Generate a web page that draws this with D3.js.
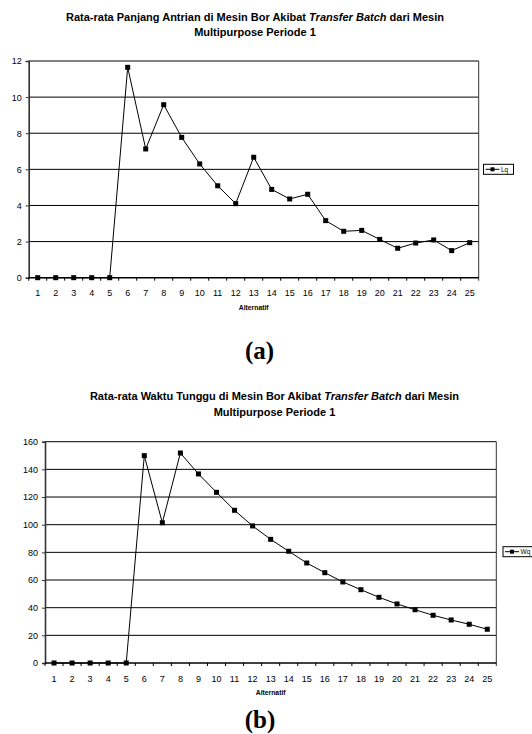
<!DOCTYPE html>
<html lang="en">
<head>
<meta charset="utf-8">
<title>Rata-rata Panjang Antrian dan Waktu Tunggu</title>
<script src="https://d3js.org/d3.v7.min.js"></script>
<style>
    body { margin: 0; background: #fff; }
    svg text { font-family: "Liberation Sans", Arial, sans-serif; fill: #000; }
</style>
</head>
<body>
<div id="vis"></div>
<script>
// Data
var alternatif = ["1","2","3","4","5","6","7","8","9","10","11","12","13",
                  "14","15","16","17","18","19","20","21","22","23","24","25"];
var lqValues = [0, 0, 0, 0, 0, 11.65, 7.13, 9.58, 7.77, 6.30, 5.09, 4.10, 6.67,
                4.89, 4.36, 4.62, 3.16, 2.57, 2.62, 2.12, 1.63, 1.92, 2.09, 1.50, 1.94];
var wqValues = [0, 0, 0, 0, 0, 149.9, 101.4, 151.8, 136.7, 123.4, 110.4, 99.1, 89.4,
                80.8, 72.3, 65.3, 58.6, 53.0, 47.5, 42.7, 38.5, 34.5, 31.1, 28.0, 24.4];
var lqTicks = [0, 2, 4, 6, 8, 10, 12];
var wqTicks = [0, 20, 40, 60, 80, 100, 120, 140, 160];

var svg = d3.select("#vis").append("svg")
    .attr("width", 532)
    .attr("height", 734);

svg.append("rect").attr("width", 532).attr("height", 734).attr("fill", "#fff");

// Draw one Excel-style line chart
function drawChart(cfg) {
    var g = svg.append("g");

    var x = d3.scaleBand().domain(alternatif).range([cfg.left, cfg.right]);
    var y = d3.scaleLinear().domain([0, d3.max(cfg.ticks)]).range([cfg.bottom, cfg.top]);

    // Title (two lines, "Transfer Batch" italic)
    var t1 = g.append("text")
        .attr("x", cfg.titleX).attr("y", cfg.titleY)
        .attr("text-anchor", "middle")
        .style("font-size", "11px").style("font-weight", "bold");
    t1.append("tspan").text(cfg.title1a);
    t1.append("tspan").style("font-style", "italic").text("Transfer Batch");
    t1.append("tspan").text("  dari Mesin");
    g.append("text")
        .attr("x", cfg.titleX).attr("y", cfg.titleY + 15.5)
        .attr("text-anchor", "middle")
        .style("font-size", "11px").style("font-weight", "bold")
        .text("Multipurpose Periode 1");

    // Gridlines
    g.selectAll(".grid").data(cfg.ticks.slice(1)).enter().append("line")
        .attr("x1", cfg.left).attr("x2", cfg.right)
        .attr("y1", function(d) { return y(d); })
        .attr("y2", function(d) { return y(d); })
        .attr("stroke", "#000").attr("stroke-width", 1);

    // Right border
    g.append("line")
        .attr("x1", cfg.right).attr("x2", cfg.right)
        .attr("y1", cfg.top).attr("y2", cfg.bottom + 3)
        .attr("stroke", "#333").attr("stroke-width", 1);

    // Y axis
    var yAxis = d3.axisLeft(y).tickValues(cfg.ticks).tickSize(3).tickPadding(4);
    var ya = g.append("g").attr("transform", "translate(" + cfg.left + ",0)").call(yAxis);
    ya.select(".domain").attr("stroke", "#333").attr("stroke-width", 1.6);
    ya.selectAll(".tick line").attr("stroke", "#333");
    ya.selectAll("text").style("font-size", "9px").style("font-family", "Liberation Sans, Arial, sans-serif");

    // X axis: ticks at category boundaries
    var xa = g.append("g");
    xa.append("line")
        .attr("x1", cfg.left).attr("x2", cfg.right)
        .attr("y1", cfg.bottom).attr("y2", cfg.bottom)
        .attr("stroke", "#000").attr("stroke-width", 1.6);
    xa.selectAll(".xt").data(alternatif).enter().append("line")
        .attr("x1", function(d) { return x(d); })
        .attr("x2", function(d) { return x(d); })
        .attr("y1", cfg.bottom).attr("y2", cfg.bottom + 3)
        .attr("stroke", "#000");
    xa.selectAll(".xl").data(alternatif).enter().append("text")
        .attr("x", function(d) { return x(d) + x.bandwidth() / 2; })
        .attr("y", cfg.bottom + 18.5)
        .attr("text-anchor", "middle")
        .style("font-size", "9px")
        .text(function(d) { return d; });

    g.append("text")
        .attr("x", (cfg.left + cfg.right) / 2).attr("y", cfg.bottom + 32)
        .attr("text-anchor", "middle")
        .style("font-size", "6.8px").style("font-weight", "bold")
        .text("Alternatif");

    // Series
    var pts = cfg.values.map(function(v, i) { return { k: alternatif[i], v: v }; });
    var line = d3.line()
        .x(function(d) { return x(d.k) + x.bandwidth() / 2; })
        .y(function(d) { return y(d.v); });
    g.append("path").datum(pts)
        .attr("d", line)
        .attr("fill", "none").attr("stroke", "#000").attr("stroke-width", 1);
    g.selectAll(".pt").data(pts).enter().append("rect")
        .attr("x", function(d) { return x(d.k) + x.bandwidth() / 2 - 2.5; })
        .attr("y", function(d) { return y(d.v) - 2.5; })
        .attr("width", 5).attr("height", 5)
        .attr("fill", "#000");

    // Legend
    var lg = g.append("g").attr("transform", "translate(" + cfg.legX + "," + cfg.legY + ")");
    lg.append("rect").attr("x", 0).attr("y", -5).attr("width", 30).attr("height", 10)
        .attr("fill", "#fff").attr("stroke", "#000").attr("stroke-width", 1);
    lg.append("line").attr("x1", 2).attr("x2", 16).attr("y1", 0).attr("y2", 0)
        .attr("stroke", "#000");
    lg.append("rect").attr("x", 7).attr("y", -2).attr("width", 4).attr("height", 4).attr("fill", "#000");
    lg.append("text").attr("x", 17.5).attr("y", 2.4)
        .style("font-size", "6.5px").text(cfg.name);

    // Panel label
    g.append("text")
        .attr("x", cfg.labelX).attr("y", cfg.labelY)
        .attr("text-anchor", "middle")
        .style("font-family", "Liberation Serif, Times New Roman, serif")
        .style("font-size", "25px").style("font-weight", "bold")
        .text(cfg.label);
}

drawChart({
    values: lqValues, ticks: lqTicks, name: "Lq", label: "(a)",
    title1a: "Rata-rata Panjang Antrian di Mesin Bor Akibat ",
    left: 28.7, right: 478.7, top: 61, bottom: 277.7,
    titleX: 255, titleY: 20.5, legX: 483.5, legY: 169.3,
    labelX: 259.5, labelY: 359
});

drawChart({
    values: wqValues, ticks: wqTicks, name: "Wq", label: "(b)",
    title1a: "Rata-rata Waktu Tunggu di Mesin Bor Akibat ",
    left: 45, right: 496.3, top: 441.7, bottom: 663,
    titleX: 274.5, titleY: 400, legX: 503, legY: 551.7,
    labelX: 260, labelY: 728
});
</script>
</body>
</html>
